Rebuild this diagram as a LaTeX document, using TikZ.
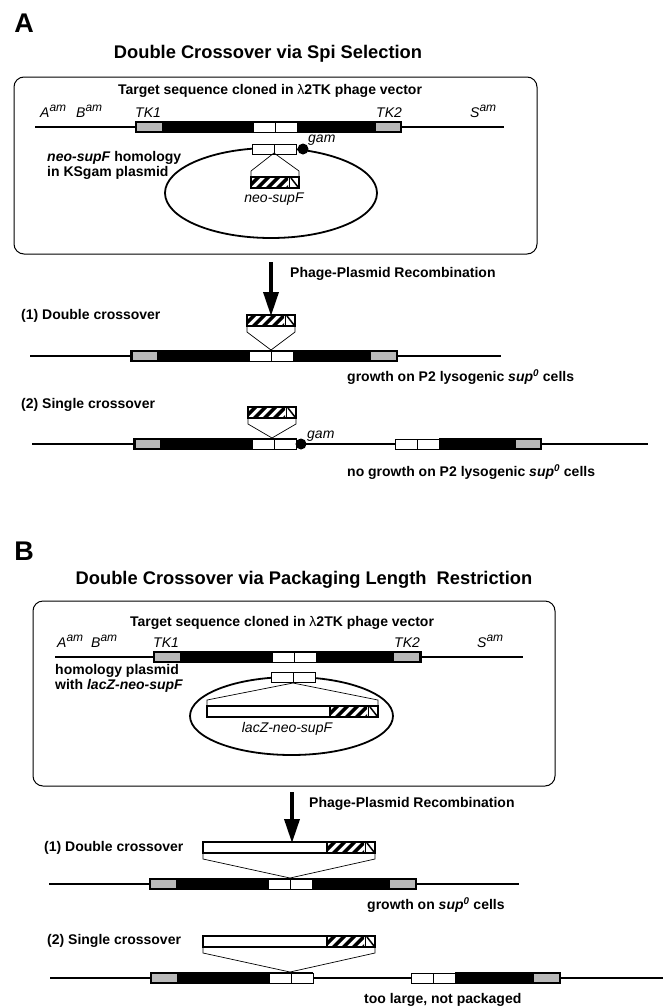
\documentclass[tikz,border=0pt]{standalone}
\usepackage{fontspec}
\setmainfont{Liberation Sans}
\usetikzlibrary{arrows.meta}

\newcommand{\fs}[1]{\fontsize{#1}{1.08\dimexpr#1pt\relax}\selectfont}
\newcommand{\sps}[1]{\raisebox{0.42em}{\fs{12}#1}}

% white homology box with its middle divider, #1 = left x, #2 = centre y
\newcommand{\homolbox}[2]{%
  \draw[homol] (#1,#2-5) rectangle ++(44,10);
  \draw[line width=0.6pt] (#1+22,#2-5) -- ++(0,10);}

% hatched neo-supF insert, 48 x 11, #1 #2 = top left corner
\newcommand{\neosupf}[2]{%
  \begin{scope}[shift={(#1,#2)}]
    \fill[white] (0,0) rectangle (48,11);
    \begin{scope}
      \clip (0,0) rectangle (37,11);
      \foreach \s in {-6,4,14,24,34}
        \fill (\s,11) -- (\s+5,11) -- (\s+16,0) -- (\s+11,0) -- cycle;
    \end{scope}
    \draw[line width=0.8pt] (38,0) -- (38,11);
    \draw[line width=1.5pt] (40,1) -- (47,10);
    \draw[line width=1.3pt] (0,0) rectangle (48,11);
  \end{scope}}

\tikzset{
  panel/.style={font=\fs{27}\bfseries, inner sep=0pt},
  heading/.style={font=\fs{18.3}\bfseries, inner sep=0pt},
  lbl/.style={font=\fs{14}\bfseries, inner sep=0pt, anchor=west},
  gene/.style={font=\fs{14}\itshape, inner sep=0pt, anchor=base west},
  dna/.style={line width=1.8pt},
  guide/.style={line width=0.7pt},
  framebox/.style={draw, line width=1pt, rounded corners=10pt},
  recomb/.style={line width=3.5pt, -{Triangle[length=24pt,width=15pt]}},
  tk/.style={fill=gray!55},
  homol/.style={fill=white, draw=black, line width=0.9pt},
  plasmid/.style={line width=1.8pt},
}

\begin{document}
\begin{tikzpicture}[x=1pt,y=-1pt]
  \useasboundingbox (0,0) rectangle (664,1007);

  %% ---------- A ----------
  \node[panel] (labA) at (24,23) {A};
  \node[heading] (titleA) at (268,54) {Double Crossover via Spi Selection};
  \draw[framebox] (14,77) rectangle (537,254);
  \node[font=\fs{14}\bfseries, inner sep=0pt] (targetA) at (270,91)
    {Target sequence cloned in {\mdseries λ}2TK phage vector};

  \draw[dna] (35,127) -- (504,127);
  \fill (135,121) rectangle (402,133);
  \fill[tk] (137,123) rectangle (162,131);
  \fill[tk] (376,123) rectangle (400,131);
  \homolbox{253}{127}
  \node[gene] (amA) at (40,117) {A\sps{am}};
  \node[gene] (bmA) at (76,117) {B\sps{am}};
  \node[gene] (tkoneA) at (135,117) {TK1};
  \node[gene] (tktwoA) at (376,117) {TK2};
  \node[gene] (smA) at (470,117) {S\sps{am}};

  % KSgam plasmid
  \draw[plasmid] (271,193) ellipse [x radius=106, y radius=45];
  \homolbox{252}{149}
  \fill (303,149) circle [radius=5.5];
  \node[gene, anchor=west] (gamA) at (308,140) {gam};
  \node[font=\fs{14}\bfseries, align=left, anchor=west, inner sep=0pt] (homA) at (47,165)
    {\textit{neo-supF} homology\\in KSgam plasmid};
  \coordinate (apexA0) at (274,153);
  \draw[guide] (251,177) -- (251,171) -- (apexA0) -- (299,171) -- (299,177);
  \neosupf{251}{177}
  \node[gene, anchor=center] (neoA) at (274,199) {neo-supF};

  \coordinate (arrAtop) at (271,262);
  \coordinate (arrAbot) at (271,316);
  \draw[recomb] (arrAtop) -- (arrAbot);
  \node[lbl] (recA) at (290,274) {Phage-Plasmid Recombination};

  % (1) double crossover
  \node[lbl] (dcA) at (21,316) {(1) Double crossover};
  \neosupf{247}{315}
  \coordinate (apexA1) at (271,350);
  \draw[guide] (247,326) -- (247,332) -- (apexA1) -- (295,332) -- (295,326);
  \draw[dna] (30,356) -- (501,356);
  \fill (130,350) rectangle (398,362);
  \fill[tk] (133,352) rectangle (157,360);
  \fill[tk] (371,352) rectangle (396,360);
  \homolbox{249}{356}
  \node[lbl] (growA) at (347,377)
    {growth on P2 lysogenic \textit{sup}\textsuperscript{\textit{0}} cells};

  % (2) single crossover
  \node[lbl] (scA) at (21,405) {(2) Single crossover};
  \neosupf{248}{407}
  \coordinate (apexA2) at (272,438);
  \draw[guide] (248,418) -- (248,424) -- (apexA2) -- (296,424) -- (296,418);
  \draw[dna] (32,444) -- (648,444);
  \fill (133,438) rectangle (297,450);
  \fill[tk] (136,440) rectangle (160,448);
  \homolbox{252}{444}
  \fill (301,444) circle [radius=5.5];
  \node[gene, anchor=west] (gamAtwo) at (307,436) {gam};
  \homolbox{395}{444}
  \fill (439,438) rectangle (542,450);
  \fill[tk] (516,440) rectangle (540,448);
  \node[lbl] (nogrowA) at (347,472)
    {no growth on P2 lysogenic \textit{sup}\textsuperscript{\textit{0}} cells};

  %% ---------- B ----------
  \node[panel] (labB) at (24,551) {B};
  \node[heading] (titleB) at (304,580) {Double Crossover via Packaging Length\ \ Restriction};
  \draw[framebox] (33,601) rectangle (555,786);
  \node[font=\fs{14}\bfseries, inner sep=0pt] (targetB) at (282,623)
    {Target sequence cloned in {\mdseries λ}2TK phage vector};

  \draw[dna] (55,657) -- (523,657);
  \fill (153,651) rectangle (422,663);
  \fill[tk] (155,653) rectangle (180,661);
  \fill[tk] (394,653) rectangle (419,661);
  \homolbox{272}{657}
  \node[gene] (amB) at (57,647) {A\sps{am}};
  \node[gene] (bmB) at (91,647) {B\sps{am}};
  \node[gene] (tkoneB) at (153,647) {TK1};
  \node[gene] (tktwoB) at (394,647) {TK2};
  \node[gene] (smB) at (477,647) {S\sps{am}};

  % homology plasmid
  \draw[plasmid] (291.5,716) ellipse [x radius=101.5, y radius=39];
  \homolbox{271}{677.5}
  \node[font=\fs{14}\bfseries, align=left, anchor=west, inner sep=0pt] (homB) at (55,678)
    {homology plasmid\\with \textit{lacZ-neo-supF}};
  \coordinate (apexB0) at (293,683);
  \draw[guide] (207,706) -- (207,700) -- (apexB0) -- (378,700) -- (378,706);
  \draw[line width=1.3pt, fill=white] (207,706) rectangle (330,717);
  \neosupf{330}{706}
  \node[gene, anchor=center] (lacB) at (287,729) {lacZ-neo-supF};

  \coordinate (arrBtop) at (292,792);
  \coordinate (arrBbot) at (292,843);
  \draw[recomb] (arrBtop) -- (arrBbot);
  \node[lbl] (recB) at (309,804) {Phage-Plasmid Recombination};

  % (1) double crossover
  \node[lbl] (dcB) at (44,848) {(1) Double crossover};
  \draw[line width=1.3pt, fill=white] (203,842) rectangle (327,853);
  \neosupf{327}{842}
  \coordinate (apexB1) at (290,878);
  \draw[guide] (203,853) -- (203,859) -- (apexB1) -- (375,859) -- (375,853);
  \draw[dna] (49,884) -- (519,884);
  \fill (149,878) rectangle (417,890);
  \fill[tk] (151,880) rectangle (176,888);
  \fill[tk] (390,880) rectangle (415,888);
  \homolbox{268}{884}
  \node[lbl] (growB) at (367,905) {growth on \textit{sup}\textsuperscript{\textit{0}} cells};

  % (2) single crossover
  \node[lbl] (scB) at (47,941) {(2) Single crossover};
  \draw[line width=1.3pt, fill=white] (203,936) rectangle (327,947);
  \neosupf{327}{936}
  \coordinate (apexB2) at (290,972);
  \draw[guide] (203,947) -- (203,953) -- (apexB2) -- (375,953) -- (375,947);
  \draw[dna] (50,978) -- (663,978);
  \fill (150,972) rectangle (313,984);
  \fill[tk] (152,974) rectangle (177,982);
  \homolbox{269}{978}
  \homolbox{411}{978}
  \fill (455,972) rectangle (561,984);
  \fill[tk] (534,974) rectangle (559,982);
  \node[lbl] (bigB) at (364,1000) {too large, not packaged};
\end{tikzpicture}
\end{document}
